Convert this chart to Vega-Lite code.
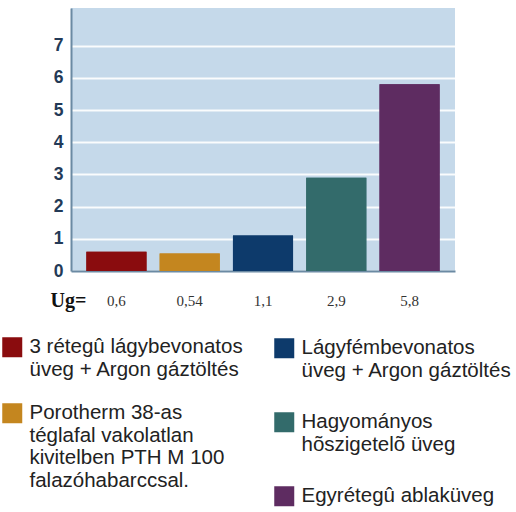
{
  "$schema": "https://vega.github.io/schema/vega-lite/v6.json",
  "width": 384,
  "height": 263,
  "autosize": {"type": "none"},
  "padding": {"left": 71, "top": 8, "right": 61, "bottom": 241},
  "background": "white",
  "view": {"fill": "#c5d9ea", "stroke": null},
  "data": {
    "values": [
      {"ug": "0,6", "value": 0.6, "kat": "3 rétegû lágybevonatos\nüveg + Argon gáztöltés"},
      {"ug": "0,54", "value": 0.54, "kat": "Porotherm 38-as\ntéglafal vakolatlan\nkivitelben PTH M 100\nfalazóhabarccsal."},
      {"ug": "1,1", "value": 1.1, "kat": "Lágyfémbevonatos\nüveg + Argon gáztöltés"},
      {"ug": "2,9", "value": 2.9, "kat": "Hagyományos\nhõszigetelõ üveg"},
      {"ug": "5,8", "value": 5.8, "kat": "Egyrétegû ablaküveg"}
    ]
  },
  "encoding": {
    "x": {
      "field": "ug",
      "type": "ordinal",
      "sort": ["0,6", "0,54", "1,1", "2,9", "5,8"],
      "scale": {"paddingInner": 0.18, "paddingOuter": 0.21},
      "axis": {
        "title": "Ug=",
        "titleFont": "Liberation Serif",
        "titleFontWeight": "bold",
        "titleFontSize": 20,
        "titleColor": "#111",
        "titleAngle": 0,
        "titleAlign": "left",
        "titleBaseline": "alphabetic",
        "titleX": -21,
        "titleY": 35,
        "labelAngle": 0,
        "labelFont": "Liberation Serif",
        "labelFontSize": 15,
        "labelColor": "#333",
        "labelPadding": 22,
        "ticks": false,
        "domainColor": "#6b8aa3",
        "domainWidth": 2
      }
    },
    "y": {
      "field": "value",
      "type": "quantitative",
      "scale": {"domain": [0, 8.17], "nice": false},
      "axis": {
        "title": null,
        "values": [0, 1, 2, 3, 4, 5, 6, 7],
        "labelFont": "Liberation Sans",
        "labelFontWeight": "bold",
        "labelFontSize": 17.5,
        "labelColor": "#233a57",
        "labelPadding": 8,
        "ticks": false,
        "domainColor": "#6b8aa3",
        "domainWidth": 2,
        "gridColor": "white",
        "gridWidth": 2,
        "gridOpacity": 0.9
      }
    }
  },
  "layer": [
    {
      "mark": {"type": "bar", "strokeWidth": 0},
      "encoding": {
        "fill": {
          "field": "kat",
          "type": "nominal",
          "scale": {
            "domain": [
              "3 rétegû lágybevonatos\nüveg + Argon gáztöltés",
              "Porotherm 38-as\ntéglafal vakolatlan\nkivitelben PTH M 100\nfalazóhabarccsal.",
              "Lágyfémbevonatos\nüveg + Argon gáztöltés",
              "Hagyományos\nhõszigetelõ üveg",
              "Egyrétegû ablaküveg"
            ],
            "range": ["#8a0c0e", "#c4861f", "#0d3a6b", "#336b6b", "#5e2c61"]
          },
          "legend": {
            "values": [
              "3 rétegû lágybevonatos\nüveg + Argon gáztöltés",
              "Porotherm 38-as\ntéglafal vakolatlan\nkivitelben PTH M 100\nfalazóhabarccsal."
            ],
            "title": null,
            "orient": "none",
            "legendX": -69,
            "legendY": 329,
            "padding": 0,
            "symbolType": "square",
            "symbolSize": 400,
            "symbolStrokeWidth": 0,
            "labelExpr": "split(datum.label, '\\n')",
            "labelFont": "Liberation Sans",
            "labelFontSize": 20.5,
            "labelLineHeight": 21,
            "labelColor": "#222",
            "labelLimit": 0,
            "labelOffset": 7,
            "rowPadding": 22
          }
        }
      }
    },
    {
      "mark": {"type": "bar", "strokeWidth": 0},
      "encoding": {
        "fill": {
          "field": "kat",
          "type": "nominal",
          "legend": {
            "values": [
              "Lágyfémbevonatos\nüveg + Argon gáztöltés",
              "Hagyományos\nhõszigetelõ üveg",
              "Egyrétegû ablaküveg"
            ],
            "title": null,
            "orient": "none",
            "legendX": 203,
            "legendY": 330,
            "padding": 0,
            "symbolType": "square",
            "symbolSize": 400,
            "symbolStrokeWidth": 0,
            "labelExpr": "split(datum.label, '\\n')",
            "labelFont": "Liberation Sans",
            "labelFontSize": 20.5,
            "labelLineHeight": 21,
            "labelColor": "#222",
            "labelLimit": 0,
            "labelOffset": 7,
            "rowPadding": 30
          }
        }
      }
    }
  ],
  "resolve": {"legend": {"fill": "independent"}}
}
